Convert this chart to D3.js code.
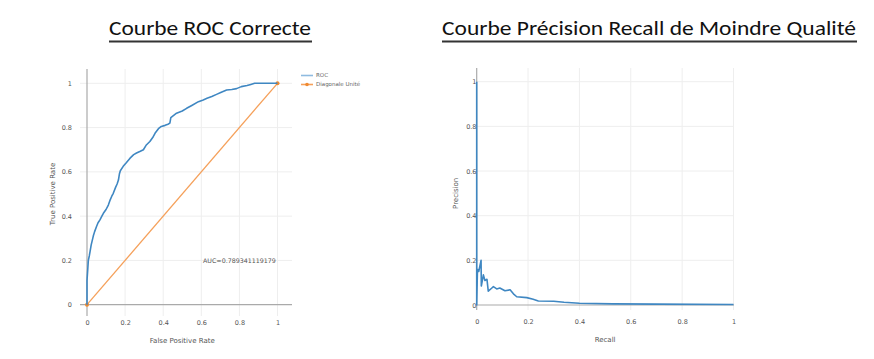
<!DOCTYPE html>
<html><head><meta charset="utf-8">
<script src="https://cdn.jsdelivr.net/npm/d3@7"></script>
<style>
html,body{margin:0;padding:0;background:#fff;}
svg{display:block;}
</style></head>
<body><svg id="c" width="874" height="359"></svg>
<script>
// ---- data ----
const titles = ["Courbe ROC Correcte", "Courbe Précision Recall de Moindre Qualité"];
const tickValues = [0, 0.2, 0.4, 0.6, 0.8, 1];
const tickLabels = ["0", "0.2", "0.4", "0.6", "0.8", "1"];
const rocFpr = [0,0,0.004,0.007,0.012,0.016,0.022,0.033,0.04,0.05,0.058,0.068,0.078,0.086,0.1,0.112,0.12,0.13,0.138,0.15,0.158,0.165,0.17,0.175,0.19,0.205,0.226,0.245,0.26,0.28,0.296,0.31,0.33,0.345,0.357,0.375,0.39,0.41,0.425,0.435,0.44,0.455,0.47,0.5,0.523,0.55,0.585,0.61,0.63,0.655,0.68,0.705,0.733,0.76,0.785,0.81,0.84,0.86,0.88,1];
const rocTpr = [0,0.11,0.16,0.2,0.22,0.24,0.27,0.31,0.33,0.353,0.37,0.383,0.4,0.413,0.43,0.45,0.47,0.49,0.503,0.53,0.545,0.563,0.59,0.605,0.625,0.64,0.662,0.678,0.685,0.693,0.7,0.72,0.737,0.755,0.774,0.795,0.805,0.81,0.815,0.82,0.845,0.855,0.865,0.875,0.887,0.9,0.917,0.925,0.932,0.94,0.95,0.96,0.97,0.972,0.976,0.985,0.99,0.995,1,1];
const diagX = [0, 1];
const diagY = [0, 1];
const aucLabel = "AUC=0.789341119179";
const aucPos = [0.8, 0.2];
const prRecall = [0,0,0.003,0.008,0.017,0.018,0.026,0.032,0.04,0.045,0.058,0.065,0.078,0.09,0.11,0.13,0.143,0.156,0.195,0.22,0.24,0.3,0.34,0.4,0.53,0.7,1];
const prPrecision = [1,0,0.16,0.15,0.2,0.085,0.135,0.11,0.115,0.062,0.075,0.082,0.072,0.076,0.064,0.068,0.05,0.037,0.033,0.026,0.018,0.017,0.012,0.008,0.005,0.004,0.002];
const legendNames = ["ROC", "Diagonale Unité"];

// ---- styles ----
const blue = "#3f87c2", orange = "#f5a05a";
const svg = d3.select("#c");
const tickFont = "'DejaVu Sans', sans-serif";

// titles
const titleCfg = [{x0:109, x1:312}, {x0:442, x1:857}];
titles.forEach((t,i)=>{
  const c = titleCfg[i];
  svg.append("text").attr("x", c.x0).attr("y", 35)
    .attr("font-family", "Carlito, 'Liberation Sans Narrow', Lato, sans-serif")
    .attr("font-size", 20).attr("fill", "#111")
    .attr("textLength", c.x1 - c.x0 - 1).attr("lengthAdjust", "spacingAndGlyphs")
    .text(t);
  svg.append("line").attr("x1", c.x0).attr("x2", c.x1).attr("y1", 41.5).attr("y2", 41.5)
    .attr("stroke", "#333").attr("stroke-width", 2);
});

function panel(cfg){
  const x = d3.scaleLinear().domain([0,1]).range(cfg.xr);
  const y = d3.scaleLinear().domain([0,1]).range(cfg.yr);
  const g = svg.append("g");
  // grid
  g.selectAll(".vg").data(tickValues.filter(d=>d>0)).join("line")
    .attr("x1", d=>x(d)).attr("x2", d=>x(d)).attr("y1", cfg.top).attr("y2", cfg.bottom)
    .attr("stroke", "#eeeeee").attr("stroke-width", 1);
  g.selectAll(".hg").data(tickValues.filter(d=>d>0)).join("line")
    .attr("x1", cfg.left).attr("x2", cfg.right).attr("y1", d=>y(d)).attr("y2", d=>y(d))
    .attr("stroke", "#eeeeee").attr("stroke-width", 1);
  // zero lines
  g.append("line").attr("x1", x(0)).attr("x2", x(0)).attr("y1", cfg.top).attr("y2", cfg.bottom)
    .attr("stroke", "#aaaaaa").attr("stroke-width", 1.2);
  g.append("line").attr("x1", cfg.left).attr("x2", cfg.right).attr("y1", y(0)).attr("y2", y(0))
    .attr("stroke", "#aaaaaa").attr("stroke-width", 1.2);
  // axes
  const ax = d3.axisBottom(x).tickValues(tickValues).tickFormat((d,i)=>tickLabels[i]).tickSize(0).tickPadding(0);
  const gx = g.append("g").attr("transform", `translate(0,${cfg.xLabY})`).call(ax);
  gx.select(".domain").remove();
  gx.selectAll("text").attr("font-family", tickFont).attr("font-size", 6.5).attr("fill", "#555").attr("dy", "0.35em");
  const ay = d3.axisLeft(y).tickValues(tickValues).tickFormat((d,i)=>tickLabels[i]).tickSize(0).tickPadding(0);
  const gy = g.append("g").attr("transform", `translate(${cfg.yLabX},0)`).call(ay);
  gy.select(".domain").remove();
  gy.selectAll("text").attr("font-family", tickFont).attr("font-size", 6.5).attr("fill", "#555");
  // axis titles
  g.append("text").attr("x", (x(0)+x(1))/2).attr("y", cfg.xTitleY).attr("text-anchor","middle")
    .attr("font-family", tickFont).attr("font-size", 7).attr("fill", "#555").text(cfg.xTitle);
  g.append("text").attr("transform", `translate(${cfg.yTitleX},${(y(0)+y(1))/2}) rotate(-90)`)
    .attr("text-anchor","middle").attr("font-family", tickFont).attr("font-size", 7).attr("fill", "#555").text(cfg.yTitle);
  return {g, x, y};
}

// left panel
const L = panel({xr:[87,277.5], yr:[304.7,83.3], top:69, bottom:316, left:80, right:292,
  xLabY:323, yLabX:72, xTitle:"False Positive Rate", xTitleY:343, yTitle:"True Positive Rate", yTitleX:55});
const lineL = d3.line().x(d=>L.x(d[0])).y(d=>L.y(d[1]));
const diag = diagX.map((d,i)=>[d, diagY[i]]);
L.g.append("path").datum(diag).attr("d", lineL).attr("fill","none").attr("stroke", orange).attr("stroke-width", 1.3);
L.g.selectAll(".dm").data(diag).join("circle").attr("cx", d=>L.x(d[0])).attr("cy", d=>L.y(d[1])).attr("r", 2).attr("fill", "#f08a30");
const roc = rocFpr.map((d,i)=>[d, rocTpr[i]]);
L.g.append("path").datum(roc).attr("d", lineL).attr("fill","none").attr("stroke", blue).attr("stroke-width", 1.6).attr("stroke-linejoin","round");
L.g.append("text").attr("x", L.x(aucPos[0])).attr("y", L.y(aucPos[1])).attr("dy","0.35em").attr("text-anchor","middle")
  .attr("font-family", tickFont).attr("font-size", 6.3).attr("fill", "#555").text(aucLabel);
// legend
const lg = svg.append("g");
legendNames.forEach((n,i)=>{
  const yy = 75.5 + i*9;
  lg.append("line").attr("x1", 301).attr("x2", 313).attr("y1", yy).attr("y2", yy)
    .attr("stroke", i===0? "#8fbbe0" : orange).attr("stroke-width", 1.6);
  if(i===1) lg.append("circle").attr("cx", 307).attr("cy", yy).attr("r", 1.8).attr("fill", "#f08a30");
  lg.append("text").attr("x", 316).attr("y", yy).attr("dy","0.35em").attr("font-family", tickFont)
    .attr("font-size", 5.5).attr("fill", "#666").text(n);
});

// right panel
const R = panel({xr:[476.7,733.5], yr:[305,81.7], top:68, bottom:310, left:476.7, right:734,
  xLabY:322, yLabX:476.5, xTitle:"Recall", xTitleY:342, yTitle:"Precision", yTitleX:458});
const lineR = d3.line().x(d=>R.x(d[0])).y(d=>R.y(d[1]));
const pr = prRecall.map((d,i)=>[d, prPrecision[i]]);
R.g.append("path").datum(pr).attr("d", lineR).attr("fill","none").attr("stroke", blue).attr("stroke-width", 1.6).attr("stroke-linejoin","round");
</script></body></html>
